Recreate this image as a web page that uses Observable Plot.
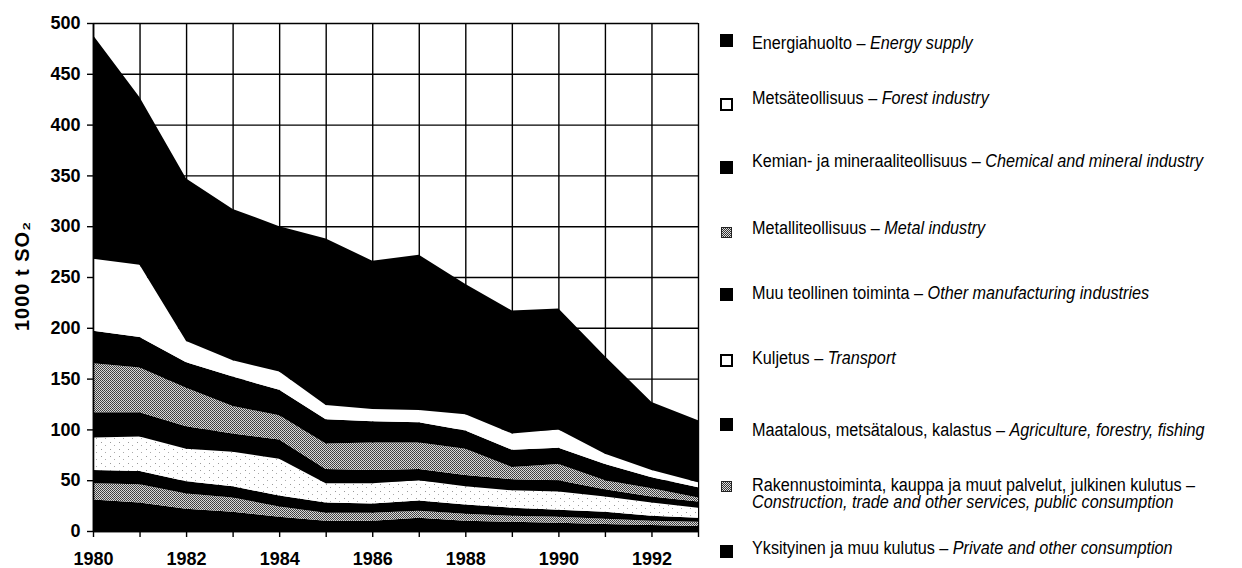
<!DOCTYPE html>
<html><head><meta charset="utf-8">
<script src="https://cdn.jsdelivr.net/npm/d3@7"></script>
<script src="https://cdn.jsdelivr.net/npm/@observablehq/plot@0.6"></script>
<style>
body{margin:0;background:#fff;}
#wrap{position:relative;width:1242px;height:568px;overflow:hidden;background:#fff;}
#chart{position:absolute;left:0;top:0;}
#ylabel{position:absolute;left:22px;top:276px;transform:translate(-50%,-50%) rotate(-90deg);
  font-family:"Liberation Sans",Arial,sans-serif;font-weight:bold;font-size:20px;letter-spacing:1px;white-space:nowrap;color:#000;}
#legend{position:absolute;left:720px;top:0;width:522px;height:568px;
  font-family:"Liberation Sans",Arial,sans-serif;font-size:18px;color:#000;}
.item{position:absolute;left:0;height:0;width:522px;}
.sw{position:absolute;left:0;width:13px;height:13px;box-sizing:border-box;}
.sw.black{background:#000;}
.sw.white{background:#fff;border:2px solid #000;}
.sw.gray{width:11px;height:11px;left:1px;border:1px solid #222;background-color:#999;
  background-image:repeating-conic-gradient(#333 0 25%, #ddd 0 50%);background-size:2px 2px;}
.txt{position:absolute;left:32px;top:0;line-height:16.5px;white-space:nowrap;
  transform:translateY(-50%) scaleX(0.9);transform-origin:left center;}
.txt i{font-style:italic;}
.item:nth-child(1){top:43px}  .item:nth-child(1) .sw{top:-9.5px}
.item:nth-child(2){top:98px}  .item:nth-child(2) .sw{top:-0.5px}
.item:nth-child(3){top:161px} .item:nth-child(3) .sw{top:-0.5px}
.item:nth-child(4){top:228px} .item:nth-child(4) .sw{top:-1.5px}
.item:nth-child(5){top:293px} .item:nth-child(5) .sw{top:-5.5px}
.item:nth-child(6){top:358px} .item:nth-child(6) .sw{top:-4.5px}
.item:nth-child(7){top:430px} .item:nth-child(7) .sw{top:-12.5px}
.item:nth-child(8){top:493px} .item:nth-child(8) .sw{top:-12.5px}
.item:nth-child(9){top:548px} .item:nth-child(9) .sw{top:-3.5px}
</style>
</head><body>
<div id="wrap"><div id="chart"></div><div id="ylabel"></div><div id="legend"></div></div>
<script>
// ---- data (1000 t SO2) ----
const years = [1980,1981,1982,1983,1984,1985,1986,1987,1988,1989,1990,1991,1992,1993];
const energySupply   = [220,165,160,149,143,164,146,153,128,121,119, 96, 67, 61];
const forestIndustry = [ 71, 71, 21, 16, 18, 14, 12, 12, 16, 16, 18, 10,  7,  5];
const chemicalMineral= [ 32, 30, 25, 29, 25, 24, 21, 20, 18, 17, 16, 16, 11, 10];
const metalIndustry  = [ 48, 44, 38, 27, 24, 25, 27, 26, 26, 12, 16,  9,  8,  4];
const otherManufact  = [ 25, 24, 22, 18, 19, 14, 13, 11, 11, 11, 11,  7,  6,  6];
const transport      = [ 32, 34, 32, 34, 36, 19, 20, 20, 18, 17, 18, 15, 13, 10];
const agriculture    = [ 13, 13, 12, 11, 11, 10,  9, 10,  9,  8,  7,  7,  5,  4];
const construction   = [ 16, 18, 15, 14, 10,  8,  8,  7,  7,  6,  6,  5,  4,  4];
const privateCons    = [ 31, 28, 22, 19, 14, 10, 10, 13, 10,  9,  8,  7,  6,  5];

const yTicks = [0,50,100,150,200,250,300,350,400,450,500];
const yLabel = "1000 t SO₂";

// legend order (top to bottom) = stack order (top to bottom)
const namesFi = [
  "Energiahuolto",
  "Metsäteollisuus",
  "Kemian- ja mineraaliteollisuus",
  "Metalliteollisuus",
  "Muu teollinen toiminta",
  "Kuljetus",
  "Maatalous, metsätalous, kalastus",
  "Rakennustoiminta, kauppa ja muut palvelut, julkinen kulutus",
  "Yksityinen ja muu kulutus"
];
const namesEn = [
  "Energy supply",
  "Forest industry",
  "Chemical and mineral industry",
  "Metal industry",
  "Other manufacturing industries",
  "Transport",
  "Agriculture, forestry, fishing",
  "Construction, trade and other services,  public consumption",
  "Private and other consumption"
];
const seriesTopDown = [energySupply, forestIndustry, chemicalMineral, metalIndustry,
  otherManufact, transport, agriculture, construction, privateCons];
const kinds = ["black","white","black","gray","black","white","black","gray","black"];
const fills = ["#000","#fff","#000","url(#halftone)","#000","url(#speckle)","#000","url(#halftone)","#000"];

// rows, bottom of stack first
const rows = [];
for (let s = seriesTopDown.length - 1; s >= 0; s--) {
  years.forEach((yr, i) => rows.push({year: yr, value: seriesTopDown[s][i], sector: namesEn[s]}));
}

const svg = Plot.plot({
  width: 706,
  height: 568,
  marginLeft: 93,
  marginRight: 8,
  marginTop: 23,
  marginBottom: 37,
  style: {fontFamily: "'Liberation Sans', Arial, sans-serif", fontSize: "18px", fontWeight: "bold", background: "#fff", color: "#000"},
  x: {domain: [1980, 1993]},
  y: {domain: [0, 500]},
  color: {domain: namesEn, range: fills},
  marks: [
    Plot.gridY(yTicks, {stroke: "#000", strokeOpacity: 1, strokeWidth: 1.4}),
    Plot.gridX(years, {stroke: "#000", strokeOpacity: 1, strokeWidth: 1.4}),
    Plot.areaY(rows, {x: "year", y: "value", fill: "sector"}),
    Plot.ruleY([0], {stroke: "#000", strokeWidth: 1.6}),
    Plot.ruleX([1980], {stroke: "#000", strokeWidth: 1.6}),
    Plot.axisX({ticks: years, tickSize: 6, tickPadding: 15, strokeWidth: 1.4,
      tickFormat: d => d % 2 === 0 ? String(d) : "", label: null}),
    Plot.axisY({ticks: yTicks, tickSize: 6, tickPadding: 7, strokeWidth: 1.4, label: null})
  ]
});

// fill patterns
const defs = d3.select(svg).insert("defs", ":first-child");
const ht = defs.append("pattern").attr("id", "halftone").attr("width", 2).attr("height", 2)
  .attr("patternUnits", "userSpaceOnUse");
ht.append("rect").attr("width", 2).attr("height", 2).attr("fill", "#d8d8d8");
ht.append("rect").attr("width", 1).attr("height", 1).attr("fill", "#3a3a3a");
ht.append("rect").attr("x", 1).attr("y", 1).attr("width", 1).attr("height", 1).attr("fill", "#4a4a4a");
const sp = defs.append("pattern").attr("id", "speckle").attr("width", 9).attr("height", 7)
  .attr("patternUnits", "userSpaceOnUse");
sp.append("rect").attr("width", 9).attr("height", 7).attr("fill", "#fff");
sp.append("rect").attr("x", 2).attr("y", 1).attr("width", 1).attr("height", 1).attr("fill", "#999");
sp.append("rect").attr("x", 6).attr("y", 4).attr("width", 1).attr("height", 1).attr("fill", "#aaa");

document.getElementById("chart").appendChild(svg);
document.getElementById("ylabel").textContent = yLabel;

// legend
const legend = d3.select("#legend");
namesFi.forEach((fi, i) => {
  const two = i === 7;
  const item = legend.append("div").attr("class", "item");
  item.append("div").attr("class", "sw " + kinds[i]);
  const t = item.append("div").attr("class", "txt");
  t.html(fi + (two ? " –<br><i>" : " – <i>") + namesEn[i] + "</i>");
});
</script>
</body></html>
